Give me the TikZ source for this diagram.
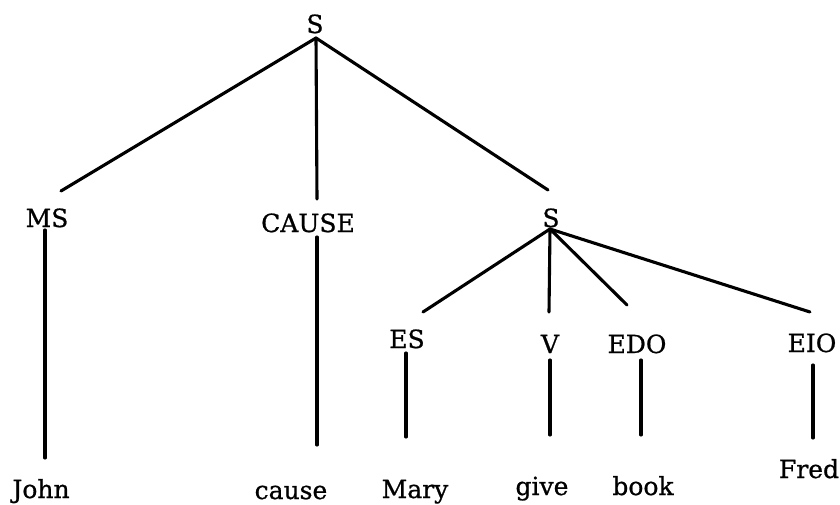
\documentclass[tikz,border=0pt]{standalone}
\usepackage{fontspec}
\setmainfont[FakeBold=0.8]{DejaVu Serif}
\usetikzlibrary{calc}
\begin{document}
\begin{tikzpicture}[x=1pt,y=-1pt,
  lab/.style={inner sep=0pt,anchor=base,font=\fontsize{25pt}{30pt}\selectfont},
  edge/.style={line width=3.1pt,line cap=round}]
\useasboundingbox (0,0) rectangle (840,504);
% labels
\node[lab] (S0) at (315,33) {S};
\node[lab] (MS) at (47,227) {MS};
\node[lab] (CAUSE) at (308,232) {CAUSE};
\node[lab] (S2) at (551,227) {S};
\node[lab] (ES) at (407,348) {ES};
\node[lab] (V) at (550,353) {V};
\node[lab] (EDO) at (637,353) {EDO};
\node[lab] (EIO) at (812,352) {EIO};
\node[lab] (John) at (41,498) {John};
\node[lab] (cause) at (291,499) {cause};
\node[lab] (Mary) at (415,498) {Mary};
\node[lab] (give) at (542,495) {give};
\node[lab] (book) at (643,495) {book};
\node[lab] (Fred) at (809,478) {Fred};
% connectors
\draw[edge] ($(S0.base)+(1,5)$) -- ($(MS.base)+(14,-36)$);
\draw[edge] ($(S0.base)+(1,5)$) -- ($(CAUSE.base)+(9,-33)$);
\draw[edge] ($(S0.base)+(1,5)$) -- ($(S2.base)+(-3,-37)$);
\draw[edge] ($(MS.base)+(-2,3)$) -- ($(John.base)+(4,-40)$);
\draw[edge] ($(CAUSE.base)+(9,5)$) -- ($(cause.base)+(26,-54)$);
\draw[edge] ($(S2.base)+(-1,2)$) -- ($(ES.base)+(16,-36)$);
\draw[edge] ($(S2.base)+(-1,2)$) -- ($(V.base)+(-1,-41)$);
\draw[edge] ($(S2.base)+(-1,2)$) -- ($(EDO.base)+(-10,-48)$);
\draw[edge] ($(S2.base)+(-1,2)$) -- ($(EIO.base)+(-2,-40)$);
\draw[edge] ($(ES.base)+(-1,5)$) -- ($(Mary.base)+(-9,-61)$);
\draw[edge] ($(V.base)+(0,7)$) -- ($(give.base)+(8,-60)$);
\draw[edge] ($(EDO.base)+(4,7)$) -- ($(book.base)+(-2,-60)$);
\draw[edge] ($(EIO.base)+(1,13)$) -- ($(Fred.base)+(4,-40)$);
\end{tikzpicture}
\end{document}
